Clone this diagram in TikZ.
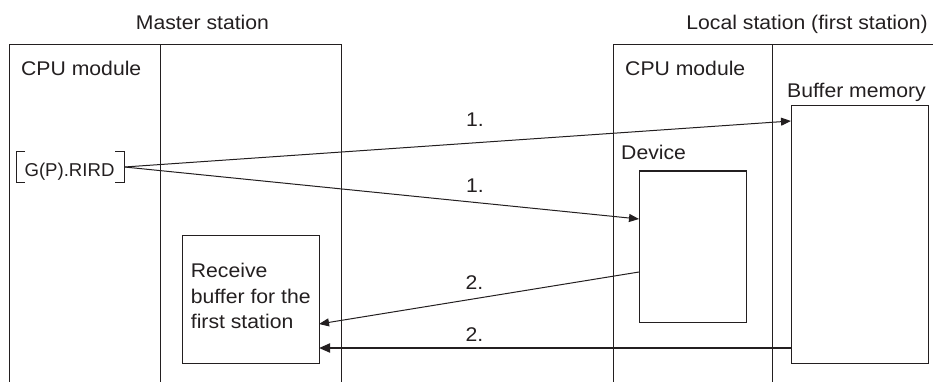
\documentclass[tikz,border=0pt]{standalone}
\usepackage{fontspec}
\setmainfont[FakeStretch=1.07]{Liberation Sans}
\newfontfamily\narrowfont{Liberation Sans}
\usetikzlibrary{arrows.meta}
\definecolor{ink}{HTML}{231F20}
\begin{document}
\begin{tikzpicture}[x=1pt,y=-1pt,
  ln/.style={draw=ink,line width=1pt},
  box/.style={draw=ink,line width=1pt,anchor=north west,inner sep=0pt,outer sep=0pt},
  lbl/.style={anchor=base west,inner sep=0pt,text=ink,font=\fontsize{19.8}{25.5}\selectfont},
  num/.style={lbl,anchor=base},
  arr/.style={draw=ink,line width=1pt,-{Triangle[length=10pt,width=8pt]}},
  thickarr/.style={draw=ink,line width=2pt,-{Triangle[length=11pt,width=9pt]}}
]
\useasboundingbox (0,0) rectangle (933,382);

% station frames
\draw[ln] (9,382) -- (9,45) -- (341,45) -- (341,382);
\draw[ln] (160,45) -- (160,382);
\draw[ln] (613,382) -- (613,45) -- (934,45);
\draw[ln] (772,45) -- (772,382);

% headings
\node[lbl,anchor=base] (mst) at (202.5,30) {Master station};
\node[lbl,anchor=base east] (lst) at (928,30) {Local station (first station)};
\node[lbl] (cpuA) at (21,75.5) {CPU module};
\node[lbl] (cpuB) at (625,75.5) {CPU module};
\node[lbl] (bmlbl) at (787,97.3) {Buffer memory};
\node[lbl] (devlbl) at (621,159.3) {Device};

% boxes
\node[box,minimum width=137pt,minimum height=128pt] (recv) at (182,235) {};
\node[box,minimum width=107pt,minimum height=151pt] (dev) at (639,171) {};
\node[box,minimum width=137pt,minimum height=257pt] (bufmem) at (791,106) {};

\node[lbl] (recvA) at (190.7,277.7) {Receive};
\node[lbl] (recvB) at (190.7,303.3) {buffer for the};
\node[lbl] (recvC) at (190.7,328.8) {first station};

% instruction
\node[lbl,anchor=base,font=\narrowfont\fontsize{18.6}{22}\selectfont] (cmd) at (69.5,176.7) {G(P).RIRD};
\draw[ln] (25,152) -- (16,152) -- (16,182) -- (25,182);
\draw[ln] (115,152) -- (124,152) -- (124,182) -- (115,182);
\coordinate (src) at (124.5,167);

% arrows
\draw[arr] (src) -- (bufmem.west |- 0,121);
\draw[arr] (src) -- (dev.west |- 0,219);
\draw[arr] (dev.west |- 0,272) -- (recv.east |- 0,324);
\draw[thickarr] (bufmem.west |- 0,348) -- (recv.east |- 0,348);

\node[num] (n1a) at (475,126.7) {1.};
\node[num] (n1b) at (475,193) {1.};
\node[num] (n2a) at (474.5,289.3) {2.};
\node[num] (n2b) at (474.5,341) {2.};
\end{tikzpicture}
\end{document}
